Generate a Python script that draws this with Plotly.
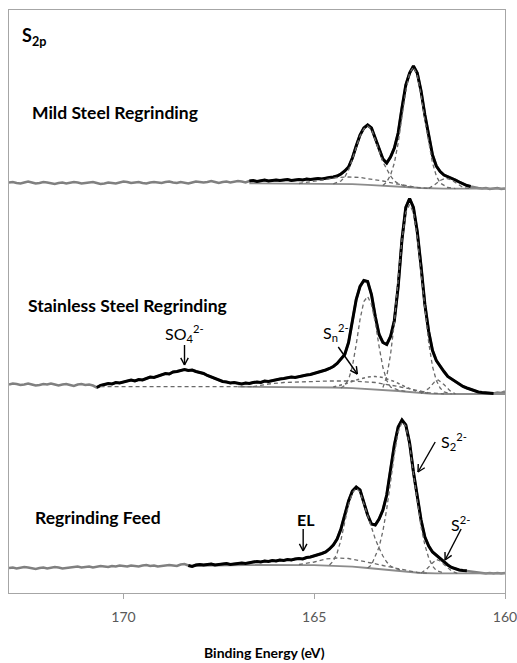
import numpy as np
import plotly.graph_objects as go

# ---------------------------------------------------------------------------
# S 2p spectra (arbitrary intensity units), binding energy 173.0 -> 160.0 eV
# ---------------------------------------------------------------------------
energy = np.round(np.arange(1730, 1599, -1) / 10.0, 1)

mild_steel = [
    0.5, 1, 0, -0.5, 0.5, 1.5, 0.5, -0.5, 0, 1, 0.5,          # 173.0-172.0
    -0.5, -1, 0, 0.5, -0.5, 0, 1, 0.5, -0.5, 0,               # 171.9-171.0
    0.5, 1, 0, -1, -0.5, 0.5, 0, -0.5, 0.5, 1.5,              # 170.9-170.0
    1, 0, 0.5, 1, 0, -0.5, 0.5, 1, 0.5, 0,                    # 169.9-169.0
    1, 1.5, 0.5, 0, 1, 0.5, -0.5, 0.5, 1.5, 1,                # 168.9-168.0
    0.5, 1, 2, 1, 0, 1, 1.5, 0.5, 1, 2,                       # 167.9-167.0
    1.5, 0.5, 2, 2.5, 1.5, 2, 3, 2, 2.5, 3,                   # 166.9-166.0
    2.5, 3, 3.5, 2.5, 3, 3.5, 3, 4, 3.5, 4,                   # 165.9-165.0
    4.5, 4, 5, 5.5, 6, 7, 9, 12, 16, 25,                      # 164.9-164.0
    37, 48, 55, 58, 55, 45, 34, 24, 20, 26,                   # 163.9-163.0
    35, 50, 75, 98, 110, 117, 110, 92, 68, 47,                # 162.9-162.0
    28, 17, 11.5, 8, 6.5, 5, 3, 1, -1, -2.5,                  # 161.9-161.0
    -3.5, -4.5, -5, -5.5, -5, -6, -5.5, -5, -6, -5.5,         # 160.9-160.0
]

stainless_steel = [
    0, 1, 0.5, -0.5, 0, 1, 0, -1, -0.5, 0.5, 0,
    1, 0, -1, 0, 0.5, -0.5, -1.5, 0, 0.5, -0.5,
    0, -1, -3, -1, 0, 1, 0.5, 2, 1.5, 2.5,
    3, 4.5, 3.5, 5, 4.5, 6, 7.5, 7, 8.5, 10,
    11, 10.5, 12.5, 13, 14, 15, 14, 14.5, 13, 12,
    11, 9, 7.5, 5.5, 4.5, 3, 2.5, 1.5, 2, 1,
    0.5, 1.5, 1, 2, 2.5, 2, 3.5, 3, 4, 5,
    5.5, 6, 6.5, 7.5, 7, 8, 9, 9.5, 10, 11,
    12, 13, 14.5, 16, 18, 21, 25, 30, 42, 62,
    85, 98, 104, 103, 90, 68, 50, 42, 40, 48,
    64, 98, 145, 177, 186, 177, 153, 118, 80, 53,
    34, 24, 18, 13, 8, 5.5, 3, 0.5, -2, -3.5,
    -5, -6.5, -7.5, -8, -8.5, -9, -9, -8, -8.5, -7,
]

regrinding_feed = [
    -1, -0.5, -1.5, -1, 0, -0.5, -1, -2, -1, -0.5, -1.5,
    -1, 0, -0.5, -1.5, -1, -0.5, 0, 0.5, -0.5, 0,
    0.5, -0.5, 0, 1, 0.5, 0, 1, 0.5, 1.5, 1,
    0.5, 1.5, 1, 0.5, 1.5, 2, 1, 1.5, 0.5, 1,
    1.5, 2, 1.5, 1, 2.5, 3, 1.5, 0.5, 2, 2.5,
    2, 2.5, 3, 2, 2.5, 3, 3.5, 2.5, 3, 3.5,
    4, 3.5, 4.5, 5, 5.5, 5, 6, 5.5, 6.5, 6,
    7, 6.5, 7.5, 7, 8, 8.5, 8, 9.5, 10, 11,
    12, 13.5, 15, 18, 22, 28, 38, 53, 66, 76,
    80, 77, 65, 52, 43, 42, 48, 57, 72, 97,
    122, 140, 147, 142, 124, 95, 70, 47, 30, 21,
    15, 11.5, 8.5, 5.5, 2, -0.5, -2, -3, -3.5, -3.7,
    -4.5, -5, -5.5, -6, -6.5, -6, -6.5, -6, -6.5, -6,
]

# vertical stacking offsets and fitted windows (eV, high -> low)
offsets = {"mild": 410, "stainless": 208.5, "feed": 26}
fit_window = {"mild": (166.7, 160.9), "stainless": (170.7, 160.3), "feed": (168.3, 161.0)}

# ---------------------------------------------------------------------------
# Fitted components: (energy list, intensity list) in the same units
# ---------------------------------------------------------------------------
mild_bg_e = [166.7, 165.0, 164.5, 164.0, 163.6, 163.2, 163.0, 162.8, 162.6, 162.4, 162.2, 162.0, 161.6, 160.0]
mild_bg = [-0.3, -0.5, -0.8, -1.2, -1.8, -2.5, -2.8, -3.2, -3.8, -4.5, -5.0, -5.4, -5.6, -5.6]
mild_el_e = [165.4, 165.0, 164.7, 164.4, 164.1, 163.8, 163.5, 163.2, 162.9, 162.6, 162.3, 162.0]
mild_el = [-0.5, 1.5, 3.5, 5.5, 6, 5.5, 4, 2, -0.5, -2.5, -4.5, -5.4]
mild_p12_e = [164.5, 164.3, 164.2, 164.1, 164.0, 163.9, 163.8, 163.7, 163.6, 163.5, 163.4, 163.3, 163.2, 163.1, 163.0, 162.9, 162.8, 162.6, 162.4]
mild_p12 = [-0.8, 2, 6, 13, 24, 36, 47, 54, 57, 54, 43, 31, 21, 14, 7, 2, -0.5, -3.5, -4.5]
mild_p32_e = [163.2, 163.1, 163.0, 162.9, 162.8, 162.7, 162.6, 162.5, 162.4, 162.3, 162.2, 162.1, 162.0, 161.9, 161.8, 161.7, 161.5, 161.3]
mild_p32 = [-2.5, 1, 8, 20, 40, 66, 92, 110, 116, 108, 88, 63, 40, 20, 7, 0, -4.5, -5.6]
mild_s_e = [162.0, 161.85, 161.7, 161.55, 161.4, 161.25, 161.1, 160.9]
mild_s = [-5.4, -2, 2.5, 5, 3, -1, -4.5, -5.6]

ss_so4_base_e = [170.6, 166.6]
ss_so4_base = [-2.2, -2.2]
ss_bg_e = [167.0, 165.0, 164.5, 164.0, 163.6, 163.2, 162.8, 162.5, 162.2, 161.9, 161.5, 160.0]
ss_bg = [-2.2, -2.5, -3, -3.7, -4.5, -5.5, -6.5, -7.5, -8.7, -9.3, -9.5, -9.5]
ss_el_e = [166.6, 166.2, 165.8, 165.2, 164.6, 164.0, 163.4, 162.8, 162.4, 162.0, 161.6]
ss_el = [-2.2, 0.5, 2, 3, 3.5, 3.5, 2, -2, -5, -8.3, -9.4]
ss_sn_e = [164.5, 164.2, 163.9, 163.6, 163.4, 163.2, 162.9, 162.6, 162.3, 162.0]
ss_sn = [-2.5, 0.5, 4.5, 7.5, 8, 7, 3, -2.5, -7, -9]
ss_p12_e = [164.3, 164.2, 164.1, 164.0, 163.9, 163.8, 163.7, 163.6, 163.5, 163.4, 163.3, 163.2, 163.1, 163.0, 162.8, 162.6]
ss_p12 = [-3.5, -1, 5, 18, 40, 65, 83, 88, 80, 62, 38, 17, 4, -2.5, -5.5, -7]
ss_p32_e = [163.2, 163.1, 163.0, 162.9, 162.8, 162.7, 162.6, 162.5, 162.4, 162.3, 162.2, 162.1, 162.0, 161.9, 161.8, 161.7, 161.6, 161.4]
ss_p32 = [-3, 8, 30, 62, 105, 145, 172, 180, 172, 148, 112, 74, 42, 18, 4, -3.5, -7.5, -9.4]
ss_s_e = [162.2, 162.0, 161.85, 161.75, 161.6, 161.45, 161.3]
ss_s = [-9, -4, 2.5, 4.5, 0, -6, -9.4]

feed_bg_e = [168.3, 166.8, 165.0, 164.5, 164.0, 163.6, 163.2, 162.8, 162.5, 162.2, 161.8, 160.0]
feed_bg = [1, 2, 1.8, 1.3, 0.3, -1, -2.5, -4, -5.2, -6, -6.3, -6.3]
feed_el_e = [165.4, 165.0, 164.7, 164.4, 164.1, 163.8, 163.5, 163.2, 162.9, 162.6, 162.3, 162.0]
feed_el = [2.5, 5, 8, 9, 8.5, 6.5, 4, 1.5, -1, -3.5, -5.5, -6.3]
feed_p12_e = [164.6, 164.5, 164.4, 164.3, 164.2, 164.1, 164.0, 163.9, 163.8, 163.7, 163.6, 163.5, 163.4, 163.3, 163.2, 163.1, 163.0, 162.9, 162.7]
feed_p12 = [2, 6, 14, 27, 45, 62, 74, 79, 75, 63, 50, 38, 28, 19, 11, 5, 1, -1, -3.5]
feed_p32_e = [163.6, 163.5, 163.4, 163.3, 163.2, 163.1, 163.0, 162.9, 162.8, 162.7, 162.6, 162.5, 162.4, 162.3, 162.2, 162.1, 162.0, 161.9, 161.8, 161.6]
feed_p32 = [-1, 2, 11, 20, 36, 58, 85, 113, 135, 145, 141, 122, 93, 66, 40, 22, 9, 1, -3.5, -6]
feed_s_e = [162.2, 162.05, 161.9, 161.8, 161.7, 161.55, 161.4, 161.25]
feed_s = [-6, -2, 4, 7.5, 6, 1, -4, -6.3]

tick_values = [170, 165, 160]
tick_text = ["170", "165", "160"]

# ---------------------------------------------------------------------------
FONT = "Lato, Carlito, Calibri, 'Open Sans', sans-serif"
RAW = "#808080"
BG = "#8c8c8c"
COMP = "#6a6a6a"

X_RANGE = [173, 160]
Y_RANGE = [0, 583]
W, H = 517, 663
M = dict(l=9, r=12, t=10, b=70)
PX_PER_EV = (W - M["l"] - M["r"]) / abs(X_RANGE[0] - X_RANGE[1])
PX_PER_Y = (H - M["t"] - M["b"]) / (Y_RANGE[1] - Y_RANGE[0])

fig = go.Figure()


def line(x, y, color, width, dash="solid"):
    fig.add_trace(go.Scatter(x=list(x), y=list(y), mode="lines", hoverinfo="skip",
                             line=dict(color=color, width=width, dash=dash)))


def shifted(values, key):
    return [v + offsets[key] for v in values]


spectra = {"mild": mild_steel, "stainless": stainless_steel, "feed": regrinding_feed}
components = {
    "mild": dict(bg=[(mild_bg_e, mild_bg)],
                 dashed=[(mild_el_e, mild_el), (mild_p12_e, mild_p12), (mild_p32_e, mild_p32), (mild_s_e, mild_s)],
                 dotted=[]),
    "stainless": dict(bg=[(ss_bg_e, ss_bg)],
                      dashed=[(ss_so4_base_e, ss_so4_base), (ss_el_e, ss_el), (ss_p12_e, ss_p12),
                              (ss_p32_e, ss_p32), (ss_s_e, ss_s)],
                      dotted=[(ss_sn_e, ss_sn)]),
    "feed": dict(bg=[(feed_bg_e, feed_bg)],
                 dashed=[(feed_el_e, feed_el), (feed_p12_e, feed_p12), (feed_p32_e, feed_p32), (feed_s_e, feed_s)],
                 dotted=[]),
}

for key, values in spectra.items():
    y = np.array(shifted(values, key))
    # full survey trace in grey
    line(energy, y, RAW, 2.6)
    comp = components[key]
    for ex, ey in comp["bg"]:
        line(ex, shifted(ey, key), BG, 1.8)
    # fitted window in black
    hi, lo = fit_window[key]
    sel = (energy <= hi + 1e-9) & (energy >= lo - 1e-9)
    line(energy[sel], y[sel], "#000000", 3.0)
    for ex, ey in comp["dashed"]:
        line(ex, shifted(ey, key), COMP, 1.3, "4px,3px")
    for ex, ey in comp["dotted"]:
        line(ex, shifted(ey, key), COMP, 1.5, "dot")

# ---------------------------------------------------------------------------
# Text labels (energy, intensity)
# ---------------------------------------------------------------------------
annotations = []


def label(text, x, y, size=14, bold=False, xanchor="center", color="#000000"):
    annotations.append(dict(
        text=f"<b>{text}</b>" if bold else text, x=x, y=y, xref="x", yref="y",
        xanchor=xanchor, yanchor="middle", showarrow=False,
        font=dict(family=FONT, size=size, color=color)))


label("S<sub>2p</sub>", 172.70, 557, size=18, bold=True, xanchor="left")
label("Mild Steel Regrinding", 172.45, 481, size=17.5, bold=True, xanchor="left")
label("Stainless Steel Regrinding", 172.55, 288, size=17.5, bold=True, xanchor="left")
label("Regrinding Feed", 172.37, 76, size=17.5, bold=True, xanchor="left")
label("SO<sub>4</sub><sup>2-</sup>", 168.40, 260, size=16)
label("S<sub>n</sub><sup>2-</sup>", 164.82, 261, size=16, xanchor="left")
label("EL", 165.22, 74, size=16, bold=True)
label("S<sub>2</sub><sup>2-</sup>", 161.72, 152, size=16, xanchor="left")
label("S<sup>2-</sup>", 161.47, 70, size=16, xanchor="left")

# arrows: (tail energy, tail y, tip energy, tip y)
arrows = [
    (168.40, 248, 168.40, 228),
    (164.37, 246, 163.87, 219),
    (165.29, 64, 165.29, 42),
    (161.83, 151, 162.28, 121),
    (161.15, 64, 161.57, 33),
]

shapes = []


def seg(x0, y0, x1, y1):
    shapes.append(dict(type="line", xref="x", yref="y", x0=x0, y0=y0, x1=x1, y1=y1,
                       line=dict(color="#000000", width=1.4)))


HEAD = 8.0
ANG = np.radians(28)
for te, ty, he, hy in arrows:
    seg(te, ty, he, hy)
    # direction from tip back to tail, in screen pixels (x grows as energy falls)
    du = -(te - he) * PX_PER_EV
    dv = (ty - hy) * PX_PER_Y
    n = np.hypot(du, dv)
    du, dv = du / n, dv / n
    for s in (1, -1):
        ru = du * np.cos(s * ANG) - dv * np.sin(s * ANG)
        rv = du * np.sin(s * ANG) + dv * np.cos(s * ANG)
        seg(he, hy, he - ru * HEAD / PX_PER_EV, hy + rv * HEAD / PX_PER_Y)

# axis title
annotations.append(dict(text="<b>Binding Energy (eV)</b>", x=(264 - M["l"]) / (W - M["l"] - M["r"]),
                        y=-59 / (H - M["t"] - M["b"]), xref="paper", yref="paper",
                        xanchor="center", yanchor="middle", showarrow=False,
                        font=dict(family=FONT, size=14, color="#000000")))

fig.update_layout(
    width=W, height=H, margin=dict(M, autoexpand=False), showlegend=False,
    paper_bgcolor="#ffffff", plot_bgcolor="#ffffff",
    annotations=annotations, shapes=shapes,
    xaxis=dict(range=X_RANGE, tickvals=tick_values, ticktext=tick_text, automargin=False,
               ticklabeloverflow="allow",
               ticks="outside", ticklen=5, tickcolor="#a6a6a6", tickwidth=1,
               showline=True, mirror=True, linecolor="#a6a6a6", linewidth=1,
               showgrid=False, zeroline=False, ticklabelstandoff=6,
               tickfont=dict(family=FONT, size=14, color="#595959")),
    yaxis=dict(range=Y_RANGE, showticklabels=False, ticks="", automargin=False,
               showline=True, mirror=True, linecolor="#a6a6a6", linewidth=1,
               showgrid=False, zeroline=False),
)

fig.write_html("out.html")
